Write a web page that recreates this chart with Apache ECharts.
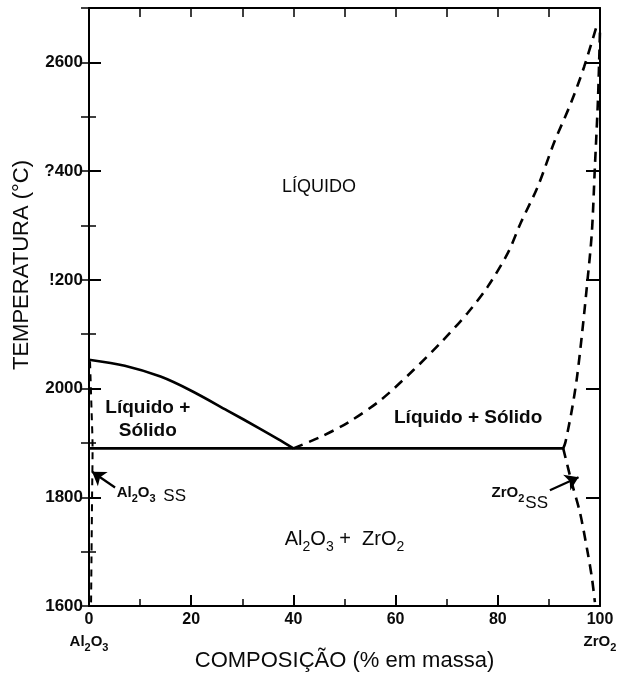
<!DOCTYPE html>
<html><head><meta charset="utf-8">
<script src="https://cdn.jsdelivr.net/npm/echarts@6/dist/echarts.min.js"></script>
<style>html,body{margin:0;padding:0;background:#fff}#c{width:620px;height:680px}</style>
</head><body><div id="c"></div>
<script>
// ---------- data (composition % ZrO2, temperature °C) ----------
const xTickValues = [0, 20, 40, 60, 80, 100];
const xEndNames = { 0: '{c|Al}{s|2}{c|O}{s|3}', 100: '{c|Zr}{c|O}{s|2}' };
const yTickLabels = { 1600: '1600', 1800: '1800', 2000: '2000', 2200: '!200', 2400: '?400', 2600: '2600' };

const eutecticLine   = [[0, 1890], [93, 1890]];
const al2o3Liquidus  = [[0, 2053], [7, 2042], [14, 2022], [20, 1996], [27, 1960], [33.5, 1926], [37, 1907], [40, 1890]];
const zro2Liquidus   = [[40, 1890], [45.3, 1911], [50.6, 1937], [57.1, 1979], [63.5, 2034], [68.8, 2084], [74.1, 2139],
                        [78, 2187], [82, 2250], [84.5, 2305], [87.8, 2371], [91, 2452], [94.3, 2525], [96.9, 2592], [99.6, 2675]];
const zro2Solidus    = [[92.8, 1890], [93.2, 1900], [94.5, 1961], [95.5, 2021], [96.5, 2102], [97.5, 2194], [98.4, 2286],
                        [99, 2408], [99.6, 2531], [100, 2660]];
const zro2Solvus     = [[92.8, 1890], [94.5, 1826], [96.1, 1771], [97.5, 1703], [98.4, 1653], [99, 1607]];
const al2o3Solvus    = [[0.2, 2050], [0.5, 1960], [0.7, 1890], [0.6, 1800], [0.4, 1600]];

const arrowAl2o3 = [[5.1, 1818], [0.6, 1847]];
const arrowZro2  = [[90.2, 1813], [95.8, 1837]];

// annotation texts: [x, T, text, styleKey]
const annotations = [
  [45, 2371, 'LÍQUIDO', 'big'],
  [11.5, 1944, 'Líquido +\nSólido', 'bold'],
  [74.2, 1946, 'Líquido + Sólido', 'bold'],
  [50, 1721, '{m|Al}{t|2}{m|O}{t|3}{m| +  ZrO}{t|2}', 'rich'],
  [12.2, 1806, '{a|Al}{u|2}{a|O}{u|3}{b| SS}', 'rich'],
  [84.3, 1806, '{a|ZrO}{u|2}{v|SS}', 'rich']
];

// ---------- chart ----------
const FONT = 'Liberation Sans, Arial, sans-serif';
const INK = '#0a0a0a';
const chart = echarts.init(document.getElementById('c'), null, { renderer: 'canvas' });

const richStyles = {
  m: { fontSize: 20, fontFamily: FONT, color: INK, lineHeight: 22, verticalAlign: 'top' },
  t: { fontSize: 14, fontFamily: FONT, color: INK, lineHeight: 14, verticalAlign: 'top', padding: [11, 0, 0, 0] },
  a: { fontSize: 15, fontFamily: FONT, color: INK, lineHeight: 16, verticalAlign: 'top', fontWeight: 'bold' },
  u: { fontSize: 11, fontFamily: FONT, color: INK, lineHeight: 11, verticalAlign: 'top', padding: [8, 0, 0, 0], fontWeight: 'bold' },
  b: { fontSize: 17, fontFamily: FONT, color: INK, lineHeight: 17, verticalAlign: 'top', padding: [2, 0, 0, 3] },
  v: { fontSize: 17, fontFamily: FONT, color: INK, lineHeight: 17, verticalAlign: 'top', padding: [9, 0, 0, 1] }
};

function annotationItem(a) {
  const label = {
    show: true, position: 'inside', color: INK, fontFamily: FONT, formatter: a[2],
    textBorderWidth: 0, textBorderColor: 'transparent', textShadowBlur: 0, opacity: 1
  };
  if (a[3] === 'big') { label.fontSize = 18; }
  if (a[3] === 'bold') { label.fontSize = 19; label.fontWeight = 'bold'; label.lineHeight = 23; label.align = 'center'; }
  if (a[3] === 'rich') { label.rich = richStyles; }
  return { value: [a[0], a[1]], label, itemStyle: { color: INK, opacity: 1 } };
}

const dashed = { color: '#000', width: 2.6, type: [10, 7], cap: 'butt' };
const solid = { color: '#000', width: 2.6 };

function lineSeries(data, style, smooth) {
  return { type: 'line', data, showSymbol: false, symbol: 'none', smooth, lineStyle: style, silent: true, z: 3 };
}

const axisLine = { show: true, onZero: false, lineStyle: { color: '#000', width: 2 } };

const option = {
  backgroundColor: '#fff',
  animation: false,
  grid: { left: 89, right: 20, top: 8, bottom: 74, containLabel: false, outerBoundsMode: 'none' },
  xAxis: [
    {
      type: 'value', position: 'bottom', min: 0, max: 100, interval: 20,
      axisLine,
      axisTick: { show: true, inside: true, length: 11, lineStyle: { color: '#000', width: 2 } },
      minorTick: { show: true, splitNumber: 2, length: 7, lineStyle: { color: '#000', width: 1.5 } },
      splitLine: { show: false }, minorSplitLine: { show: false },
      axisLabel: {
        margin: 6, color: INK, fontFamily: FONT, fontSize: 16, fontWeight: 'bold',
        formatter: v => xEndNames[v] !== undefined ? '{n|' + v + '}\n' + xEndNames[v] : '{n|' + v + '}',
        rich: {
          n: { fontSize: 16, fontWeight: 'bold', fontFamily: FONT, color: INK, lineHeight: 22, verticalAlign: 'top' },
          c: { fontSize: 15, fontWeight: 'bold', fontFamily: FONT, color: INK, lineHeight: 17, verticalAlign: 'top' },
          s: { fontSize: 11, fontWeight: 'bold', fontFamily: FONT, color: INK, lineHeight: 11, verticalAlign: 'top', padding: [8, 0, 0, 0] }
        }
      },
      name: 'COMPOSIÇÃO (% em massa)', nameLocation: 'middle', nameGap: 44, nameMoveOverlap: false,
      nameTextStyle: { fontSize: 22, fontFamily: FONT, color: INK }
    },
    {
      type: 'value', position: 'top', min: 0, max: 100, interval: 10,
      axisLine,
      axisTick: { show: true, inside: true, length: 9, lineStyle: { color: '#000', width: 1.5 } },
      splitLine: { show: false }, axisLabel: { show: false }
    }
  ],
  yAxis: [
    {
      type: 'value', position: 'left', min: 1600, max: 2700, interval: 200,
      axisLine,
      axisTick: { show: true, inside: true, length: 12, lineStyle: { color: '#000', width: 2 } },
      splitLine: { show: false },
      axisLabel: {
        margin: 6, color: INK, fontFamily: FONT, fontSize: 17, fontWeight: 'bold',
        formatter: v => yTickLabels[v] || ''
      },
      name: 'TEMPERATURA (°C)', nameLocation: 'middle', nameGap: 44, nameRotate: 90,
      nameTextStyle: { fontSize: 22, fontFamily: FONT, color: INK, padding: [0, 0, 0, 84] }
    },
    {
      type: 'value', position: 'left', min: 1600, max: 2700, interval: 100,
      axisLine: { show: false },
      axisTick: { show: true, inside: true, length: 7, lineStyle: { color: '#000', width: 1.5 } },
      splitLine: { show: false }, axisLabel: { show: false }
    },
    {
      type: 'value', position: 'right', min: 1600, max: 2700, interval: 200,
      axisLine,
      axisTick: { show: true, inside: true, length: 14, lineStyle: { color: '#000', width: 2 } },
      splitLine: { show: false }, axisLabel: { show: false }
    },
    {
      type: 'value', position: 'right', min: 1600, max: 2700, interval: 100,
      axisLine: { show: false },
      axisTick: { show: true, inside: true, length: 8, lineStyle: { color: '#000', width: 1.5 } },
      splitLine: { show: false }, axisLabel: { show: false }
    }
  ],
  series: [
    lineSeries(eutecticLine, solid, false),
    lineSeries(al2o3Liquidus, solid, 0.3),
    lineSeries(zro2Liquidus, dashed, 0.3),
    lineSeries(zro2Solidus, dashed, 0.3),
    lineSeries(zro2Solvus, dashed, 0.3),
    lineSeries(al2o3Solvus, { color: '#000', width: 2, type: [7, 6] }, 0.3),
    {
      type: 'lines', coordinateSystem: 'cartesian2d', silent: true, z: 4,
      symbol: ['none', 'arrow'], symbolSize: [0, 13],
      lineStyle: { color: '#000', width: 2.2, opacity: 1, curveness: 0 },
      data: [{ coords: arrowAl2o3 }, { coords: arrowZro2 }]
    },
    {
      type: 'scatter', symbolSize: 0, silent: true, z: 5,
      itemStyle: { opacity: 1 },
      data: annotations.map(annotationItem)
    }
  ]
};
chart.setOption(option);
</script>
</body></html>
